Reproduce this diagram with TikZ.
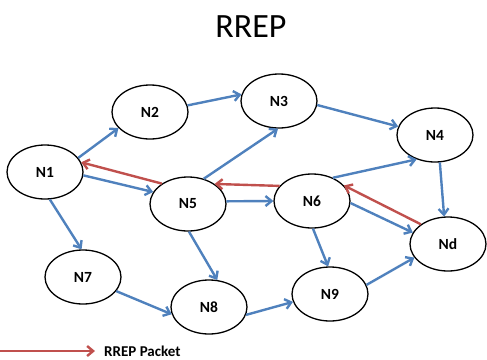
\documentclass[tikz,border=0pt]{standalone}
\usepackage{fontspec}
\setmainfont{Carlito}
\usetikzlibrary{shapes.geometric,arrows.meta}
\definecolor{bl}{HTML}{4F81BD}
\definecolor{rd}{HTML}{C0504D}
\tikzset{
  nd/.style={ellipse,draw=black,line width=1.3pt,fill=white,inner sep=0pt,minimum width=76pt,minimum height=54pt,font=\fontsize{15.5}{15.5}\selectfont\bfseries},
  ba/.style={draw=bl,line width=2.4pt,-{Straight Barb[length=6pt,width=10pt,line width=2.4pt]}},
  ra/.style={draw=rd,line width=2.4pt,-{Straight Barb[length=6pt,width=10pt,line width=2.4pt]}}
}
\begin{document}
\begin{tikzpicture}[x=1pt,y=-1pt]
\useasboundingbox (0,0) rectangle (487,359);
\node[font=\fontsize{34}{34}\selectfont] (title) at (251,27) {RREP};
\node[nd] (n1) at (45,172) {N1};
\node[nd] (n2) at (150,112) {N2};
\node[nd] (n3) at (279,101) {N3};
\node[nd] (n4) at (435,135) {N4};
\node[nd] (n5) at (188,204) {N5};
\node[nd] (n6) at (312,201) {N6};
\node[nd] (nd) at (448,244) {Nd};
\node[nd] (n7) at (83,277) {N7};
\node[nd] (n8) at (209,307) {N8};
\node[nd] (n9) at (330,294) {N9};
% blue links
\draw[ba] (n1.23) -- (n2.207);
\draw[ba] (n2.10) -- (n3.170);
\draw[ba] (n3.-6) -- (n4.167);
\draw[ba] (n1.-5) -- (n5.161);
\draw[ba] (n5.58) -- (n3.268);
\draw[ba] (n5.4) -- (n6.180);
\draw[ba] (n5.-88) -- (n8.73);
\draw[ba] (n6.48) -- (n4.233);
\draw[ba] (n4.-80) -- (nd.98);
\draw[ba] (n6.-3) -- (nd.162);
\draw[ba] (n6.-88) -- (n9.94);
\draw[ba] (n9.14) -- (nd.202);
\draw[ba] (n1.-80) -- (n7.93);
\draw[ba] (n7.-23) -- (n8.191);
\draw[ba] (n8.-12) -- (n9.192);
% red reply path
\draw[ra] (nd.144) -- (n6.26);
\draw[ra] (n6.155) -- (n5.37);
\draw[ra] (n5.142) -- (n1.15);
% legend
\coordinate (la) at (0,351);
\coordinate (lb) at (95,351);
\draw[ra] (la) -- (lb);
\node[anchor=base west,inner sep=1pt,text depth=0pt,font=\fontsize{15}{15}\selectfont\bfseries] (lt) at (103,356) {RREP Packet};
\end{tikzpicture}
\end{document}
